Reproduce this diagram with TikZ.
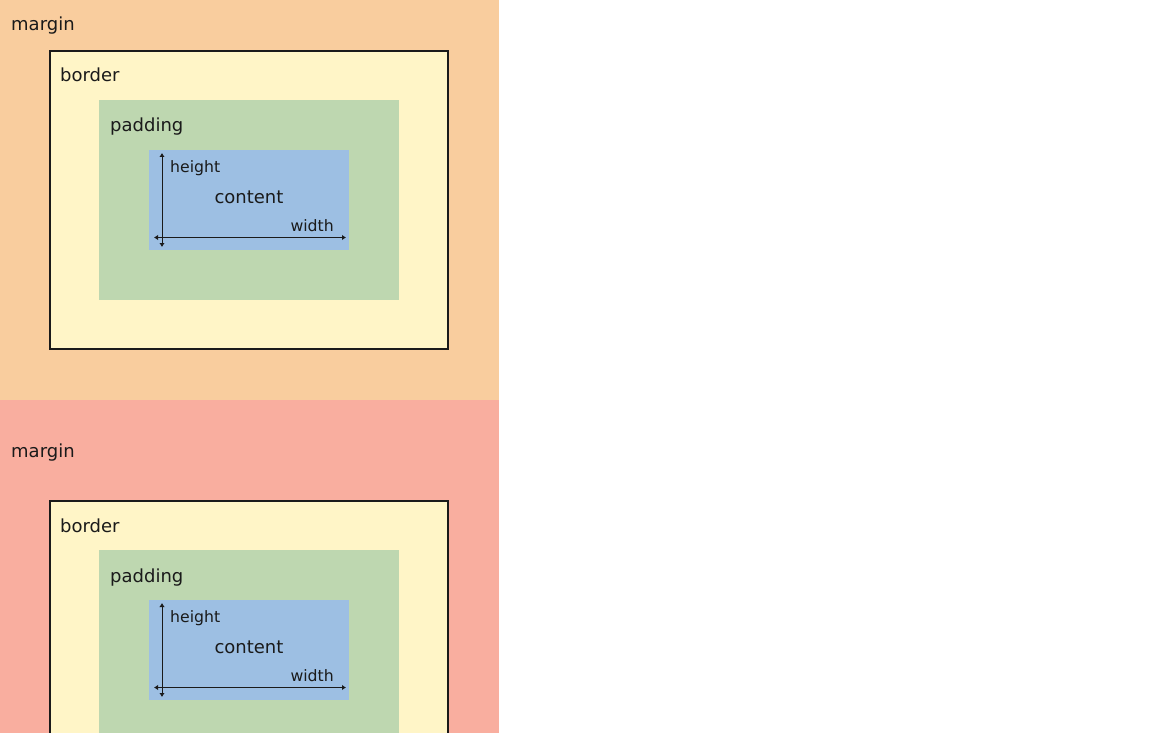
\documentclass[tikz,border=0pt]{standalone}
\usepackage{fontspec}
\setmainfont{DejaVu Sans}
\usetikzlibrary{arrows.meta, positioning}
\definecolor{margineAlto}{HTML}{F9CD9E}
\definecolor{margineBasso}{HTML}{F9AE9F}
\definecolor{bordoFill}{HTML}{FFF5C7}
\definecolor{paddingFill}{HTML}{BED7B0}
\definecolor{contenutoFill}{HTML}{9DBFE3}
\definecolor{inchiostro}{HTML}{1A1A1A}
\newcommand{\etichetta}{\fontsize{18}{21}\selectfont}
\newcommand{\misura}{\fontsize{15.7}{19}\selectfont}

\begin{document}
\begin{tikzpicture}[x = 1pt, y = -1pt,
    testo/.style = {inner sep = 0pt, text = inchiostro, font = \etichetta},
    quota/.style = {inner sep = 0pt, text = inchiostro, font = \misura},
    freccia/.style = {inchiostro, line width = 0.9pt, {Latex[length=4pt,width=5.5pt]}-{Latex[length=4pt,width=5.5pt]}}]
    % Pagina
    \useasboundingbox (0,0) rectangle (1152,733);
    \clip (0,0) rectangle (1152,733);
    \fill[white] (0,0) rectangle (1152,733);
    % Due modelli: spostamento, colore del margine, inizio/fine margine, riga etichetta margine
    \foreach \dy/\colore/\ya/\yb/\ym/\n in {0/margineAlto/0/400/31/A, 450/margineBasso/400/900/457/B}{
        % Margine
        \fill[\colore] (0,\ya) rectangle (499,\yb);
        \node[testo, anchor = base west] (margin\n) at (11,\ym) {margin};
        % Bordo
        \filldraw[fill = bordoFill, draw = inchiostro, line width = 1.6pt] (50,{51+\dy}) rectangle (448,{349+\dy});
        \node[testo, anchor = base west] (border\n) at (60,{82+\dy}) {border};
        % Padding
        \fill[paddingFill] (99,{100+\dy}) rectangle (399,{300+\dy});
        \node[testo, anchor = base west] (padding\n) at (110,{132+\dy}) {padding};
        % Contenuto
        \fill[contenutoFill] (149,{150+\dy}) rectangle (349,{250+\dy});
        \node[testo, anchor = base] (content\n) at (249,{203.5+\dy}) {content};
        \node[quota, anchor = base west] (height\n) at (170,{172+\dy}) {height};
        \node[quota, anchor = base east] (width\n) at (334,{231.5+\dy}) {width};
        % Quote
        \coordinate (alto\n) at (162,{153+\dy});
        \coordinate (basso\n) at (162,{247+\dy});
        \coordinate (sinistra\n) at (154,{237.5+\dy});
        \coordinate (destra\n) at (346,{237.5+\dy});
        \draw[freccia] (alto\n) -- (basso\n);
        \draw[freccia] (sinistra\n) -- (destra\n);
    }
\end{tikzpicture}
\end{document}
